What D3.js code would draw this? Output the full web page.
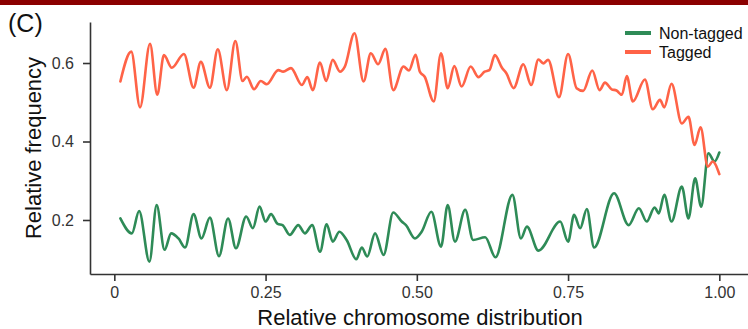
<!DOCTYPE html>
<html lang="en">
<head>
<meta charset="UTF-8">
<title>Relative frequency</title>
<script src="https://cdn.jsdelivr.net/npm/d3@7/dist/d3.min.js"></script>
<style>
  body { margin: 0; background: #fff; }
  svg { display: block; font-family: "Liberation Sans", Arial, sans-serif; }
  .axis path, .axis line { stroke: #333; stroke-width: 1.6px; }
  .axis text { fill: #333; font-size: 16px; font-family: "Liberation Sans", Arial, sans-serif; }
  .title { fill: #111; font-size: 22px; }
  .series { fill: none; stroke-width: 2.6px; stroke-linejoin: round; stroke-linecap: round; }
  .legend text { fill: #111; font-size: 16px; }
</style>
</head>
<body>
<svg id="chart"></svg>
<script>
// data (x = relative position, y = relative frequency)
const nonTaggedX = [0.010, 0.029, 0.041, 0.058, 0.070, 0.083, 0.094, 0.106, 0.117, 0.131,
  0.144, 0.158, 0.173, 0.188, 0.201, 0.218, 0.229, 0.240, 0.250, 0.259,
  0.270, 0.278, 0.290, 0.304, 0.315, 0.327, 0.340, 0.351, 0.361, 0.372,
  0.384, 0.400, 0.409, 0.418, 0.431, 0.445, 0.461, 0.475, 0.482, 0.497,
  0.508, 0.524, 0.540, 0.551, 0.563, 0.580, 0.593, 0.613, 0.630, 0.658,
  0.672, 0.682, 0.701, 0.737, 0.750, 0.760, 0.770, 0.781, 0.793, 0.826,
  0.850, 0.867, 0.880, 0.893, 0.900, 0.909, 0.921, 0.938, 0.949, 0.960,
  0.970, 0.982, 0.992, 1.000];
const nonTaggedY = [0.204, 0.166, 0.223, 0.094, 0.238, 0.124, 0.166, 0.153, 0.130, 0.215,
  0.153, 0.206, 0.108, 0.204, 0.128, 0.209, 0.179, 0.234, 0.196, 0.215,
  0.190, 0.187, 0.162, 0.187, 0.166, 0.187, 0.119, 0.189, 0.145, 0.170,
  0.149, 0.100, 0.130, 0.107, 0.166, 0.111, 0.219, 0.196, 0.187, 0.153,
  0.170, 0.221, 0.132, 0.238, 0.145, 0.226, 0.149, 0.156, 0.105, 0.264,
  0.153, 0.183, 0.122, 0.196, 0.145, 0.213, 0.179, 0.228, 0.130, 0.268,
  0.187, 0.230, 0.196, 0.232, 0.217, 0.264, 0.196, 0.285, 0.204, 0.306,
  0.234, 0.370, 0.349, 0.372];

const taggedX = [0.010, 0.028, 0.0425, 0.059, 0.071, 0.082, 0.095, 0.115, 0.131, 0.143,
  0.158, 0.171, 0.186, 0.200, 0.212, 0.219, 0.231, 0.242, 0.252, 0.271,
  0.279, 0.292, 0.310, 0.319, 0.328, 0.340, 0.350, 0.361, 0.373, 0.381,
  0.397, 0.412, 0.424, 0.436, 0.448, 0.461, 0.478, 0.487, 0.498, 0.505,
  0.513, 0.528, 0.540, 0.551, 0.562, 0.574, 0.589, 0.602, 0.612, 0.620,
  0.629, 0.641, 0.648, 0.660, 0.676, 0.689, 0.701, 0.709, 0.717, 0.735,
  0.750, 0.764, 0.775, 0.790, 0.802, 0.811, 0.822, 0.830, 0.839, 0.847,
  0.857, 0.877, 0.890, 0.902, 0.909, 0.921, 0.938, 0.949, 0.959, 0.969,
  0.981, 0.989, 1.000];
const taggedY = [0.553, 0.629, 0.487, 0.649, 0.519, 0.620, 0.588, 0.623, 0.537, 0.603,
  0.537, 0.635, 0.531, 0.656, 0.554, 0.565, 0.533, 0.554, 0.546, 0.582,
  0.578, 0.587, 0.544, 0.564, 0.531, 0.601, 0.554, 0.608, 0.578, 0.591,
  0.676, 0.553, 0.625, 0.597, 0.636, 0.531, 0.591, 0.581, 0.621, 0.578,
  0.565, 0.502, 0.625, 0.536, 0.592, 0.540, 0.591, 0.564, 0.578, 0.582,
  0.620, 0.587, 0.574, 0.536, 0.597, 0.544, 0.609, 0.599, 0.608, 0.513,
  0.623, 0.536, 0.529, 0.581, 0.531, 0.550, 0.533, 0.530, 0.519, 0.567,
  0.502, 0.558, 0.482, 0.506, 0.487, 0.547, 0.446, 0.463, 0.391, 0.436,
  0.336, 0.349, 0.317];

const seriesNames = ["Non-tagged", "Tagged"];
const seriesColors = ["#2e8b57", "#ff6347"];
const xTickValues = [0, 0.25, 0.5, 0.75, 1];
const xTickLabels = ["0", "0.25", "0.50", "0.75", "1.00"];
const yTickValues = [0.2, 0.4, 0.6];
const yTickLabels = ["0.2", "0.4", "0.6"];

const width = 748;
const height = 329;

const svg = d3.select("#chart")
  .attr("width", width)
  .attr("height", height);

// thin dark red band across the top
svg.append("rect")
  .attr("x", 0).attr("y", 0)
  .attr("width", width).attr("height", 5)
  .attr("fill", "#8b0000");

const x = d3.scaleLinear().domain([-0.0402, 1.0474]).range([90, 748]);
const y = d3.scaleLinear().domain([0.0624, 0.7045]).range([274, 22]);

svg.append("g")
  .attr("class", "axis")
  .attr("transform", "translate(0,274)")
  .call(d3.axisBottom(x)
    .tickValues(xTickValues)
    .tickFormat((d, i) => xTickLabels[i])
    .tickSize(7)
    .tickSizeOuter(0)
    .tickPadding(6));

svg.append("g")
  .attr("class", "axis")
  .attr("transform", "translate(90,0)")
  .call(d3.axisLeft(y)
    .tickValues(yTickValues)
    .tickFormat((d, i) => yTickLabels[i])
    .tickSize(7)
    .tickSizeOuter(0)
    .tickPadding(9));

const line = d3.line()
  .x(d => x(d[0]))
  .y(d => y(d[1]))
  .curve(d3.curveMonotoneX);

const series = [
  d3.zip(nonTaggedX, nonTaggedY),
  d3.zip(taggedX, taggedY)
];

svg.append("g")
  .selectAll("path")
  .data(series)
  .enter().append("path")
  .attr("class", "series")
  .attr("stroke", (d, i) => seriesColors[i])
  .attr("d", line);

// axis titles
svg.append("text")
  .attr("class", "title")
  .attr("x", 420)
  .attr("y", 325)
  .attr("text-anchor", "middle")
  .text("Relative chromosome distribution");

svg.append("text")
  .attr("class", "title")
  .attr("transform", "translate(41,148) rotate(-90)")
  .attr("text-anchor", "middle")
  .text("Relative frequency");

// panel label
svg.append("text")
  .attr("x", 8)
  .attr("y", 32)
  .attr("fill", "#111")
  .style("font-size", "25px")
  .text("(C)");

// legend
const legend = svg.append("g")
  .attr("class", "legend")
  .selectAll("g")
  .data(seriesNames)
  .enter().append("g")
  .attr("transform", (d, i) => "translate(625," + (33 + i * 19) + ")");

legend.append("line")
  .attr("x1", 0).attr("x2", 26)
  .attr("y1", 0).attr("y2", 0)
  .attr("stroke", (d, i) => seriesColors[i])
  .attr("stroke-width", 4);

legend.append("text")
  .attr("x", 34)
  .attr("y", 5.5)
  .text(d => d);
</script>
</body>
</html>
